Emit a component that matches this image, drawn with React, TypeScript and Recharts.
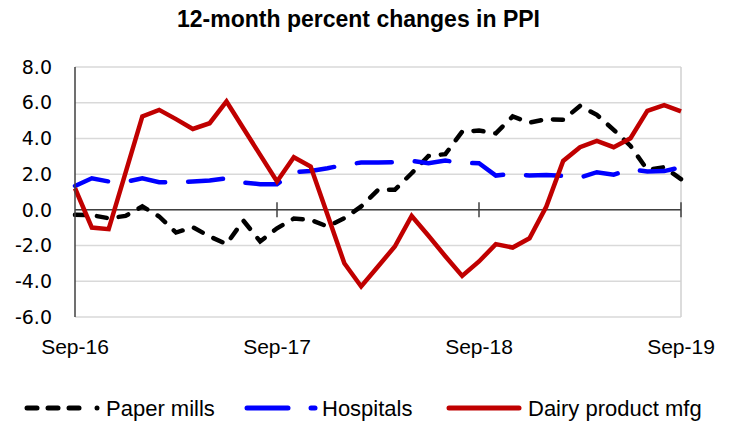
import React from 'react';
import { LineChart, Line, XAxis, YAxis, CartesianGrid, ReferenceLine } from 'recharts';

const months = [
  'Sep-16', 'Oct-16', 'Nov-16', 'Dec-16', 'Jan-17', 'Feb-17', 'Mar-17', 'Apr-17', 'May-17', 'Jun-17', 'Jul-17', 'Aug-17',
  'Sep-17', 'Oct-17', 'Nov-17', 'Dec-17', 'Jan-18', 'Feb-18', 'Mar-18', 'Apr-18', 'May-18', 'Jun-18', 'Jul-18', 'Aug-18',
  'Sep-18', 'Oct-18', 'Nov-18', 'Dec-18', 'Jan-19', 'Feb-19', 'Mar-19', 'Apr-19', 'May-19', 'Jun-19', 'Jul-19', 'Aug-19',
  'Sep-19',
];

const paperMills = [
  -0.28, -0.3, -0.47, -0.34, 0.19, -0.37, -1.27, -0.97, -1.49, -1.92, -0.6, -1.77,
  -1.03, -0.49, -0.56, -0.93, -0.47, 0.19, 1.12, 1.12, 2.05, 3.02, 3.12, 4.38,
  4.44, 4.29, 5.23, 4.89, 5.08, 5.04, 5.82, 5.32, 4.48, 3.58, 2.24, 2.39,
  1.72,
];

const hospitals = [
  1.34, 1.77, 1.59, 1.57, 1.77, 1.55, 1.53, 1.59, 1.64, 1.77, 1.53, 1.44,
  1.44, 2.11, 2.18, 2.33, 2.52, 2.65, 2.65, 2.67, 2.74, 2.61, 2.76, 2.63,
  2.61, 1.92, 2.02, 1.92, 1.95, 1.9, 1.81, 2.11, 1.97, 2.28, 2.15, 2.17,
  2.39,
];

const dairy = [
  1.21, -0.99, -1.08, 2.07, 5.23, 5.6, 5.08, 4.53, 4.85, 6.07, 4.57, 3.08,
  1.59, 2.95, 2.43, -0.28, -2.99, -4.29, -3.17, -2.05, -0.34, -1.45, -2.6, -3.7,
  -2.89, -1.92, -2.11, -1.59, 0.19, 2.74, 3.51, 3.86, 3.51, 4.01, 5.54, 5.86,
  5.51,
];

const xTicks = ['Sep-16', 'Sep-17', 'Sep-18', 'Sep-19'];
const yTicks = [-6, -4, -2, 0, 2, 4, 6, 8];
const tickMarks = ['Sep-17', 'Sep-18', 'Sep-19'];

const title = '12-month percent changes in PPI';
const seriesNames = ['Paper mills', 'Hospitals', 'Dairy product mfg'];

const data = months.map((m, i) => ({
  month: m,
  paper: paperMills[i],
  hosp: hospitals[i],
  dairy: dairy[i],
}));

export default function App() {
  const legendFont = { fontFamily: '"Liberation Sans", Arial, sans-serif', fontSize: 22, fill: '#000' };
  return (
    <div style={{ position: 'absolute', left: 0, top: 0, width: 729, height: 426, background: '#fff' }}>
      <div
        style={{
          position: 'absolute',
          left: 0,
          top: 6,
          width: 729,
          textAlign: 'center',
          fontFamily: '"Liberation Sans", Arial, sans-serif',
          fontWeight: 'bold',
          fontSize: 23,
          color: '#000',
          paddingRight: 12,
          boxSizing: 'border-box',
        }}
      >
        {title}
      </div>
      <LineChart
        width={729}
        height={426}
        data={data}
        margin={{ top: 67, right: 48, bottom: 69, left: 0 }}
      >
        <CartesianGrid horizontal vertical={false} stroke="#d9d9d9" strokeWidth={1.5} />
        <XAxis
          dataKey="month"
          ticks={xTicks}
          interval={0}
          axisLine={false}
          tickLine={false}
          tickSize={0}
          tickMargin={22}
          height={40}
          tick={{ fontFamily: '"Liberation Sans", Arial, sans-serif', fontSize: 21, fill: '#000' }}
        />
        <YAxis
          domain={[-6, 8]}
          ticks={yTicks}
          interval={0}
          width={75}
          tickFormatter={(v: number) => v.toFixed(1)}
          axisLine={{ stroke: '#404040', strokeWidth: 1.5 }}
          tickLine={false}
          tickSize={0}
          tickMargin={23}
          tick={{ fontFamily: '"DejaVu Sans", sans-serif', fontSize: 19, fill: '#000' }}
        />
        <ReferenceLine x="Sep-19" stroke="#d0d0d0" strokeWidth={1.5} />
        <ReferenceLine y={0} stroke="#404040" strokeWidth={1.5} />
        {tickMarks.map((t) => (
          <ReferenceLine
            key={t}
            segment={[
              { x: t, y: -0.42 },
              { x: t, y: 0.42 },
            ]}
            stroke="#404040"
            strokeWidth={1.5}
          />
        ))}
        <Line
          dataKey="paper"
          name={seriesNames[0]}
          stroke="#000000"
          strokeWidth={4.5}
          strokeDasharray="10 12"
          strokeLinecap="round"
          dot={false}
          isAnimationActive={false}
        />
        <Line
          dataKey="hosp"
          name={seriesNames[1]}
          stroke="#0000ff"
          strokeWidth={4.5}
          strokeDasharray="35 23"
          strokeLinecap="round"
          dot={false}
          isAnimationActive={false}
        />
        <Line
          dataKey="dairy"
          name={seriesNames[2]}
          stroke="#c00000"
          strokeWidth={4.5}
          dot={false}
          isAnimationActive={false}
        />
      </LineChart>
      <svg style={{ position: 'absolute', left: 0, top: 390 }} width={729} height={36}>
        <g>
          <line x1={27} y1={18} x2={37} y2={18} stroke="#000" strokeWidth={5} strokeLinecap="round" />
          <line x1={48} y1={18} x2={58} y2={18} stroke="#000" strokeWidth={5} strokeLinecap="round" />
          <line x1={69} y1={18} x2={79} y2={18} stroke="#000" strokeWidth={5} strokeLinecap="round" />
          <circle cx={97} cy={18} r={2.5} fill="#000" />
          <text x={106} y={26} {...legendFont}>{seriesNames[0]}</text>
        </g>
        <g>
          <line x1={247} y1={18} x2={288} y2={18} stroke="#0000ff" strokeWidth={5} strokeLinecap="round" />
          <line x1={311} y1={18} x2={315} y2={18} stroke="#0000ff" strokeWidth={5} strokeLinecap="round" />
          <text x={322} y={26} {...legendFont}>{seriesNames[1]}</text>
        </g>
        <g>
          <line x1={449} y1={18} x2={519} y2={18} stroke="#c00000" strokeWidth={5} strokeLinecap="round" />
          <text x={528} y={26} {...legendFont}>{seriesNames[2]}</text>
        </g>
      </svg>
    </div>
  );
}
